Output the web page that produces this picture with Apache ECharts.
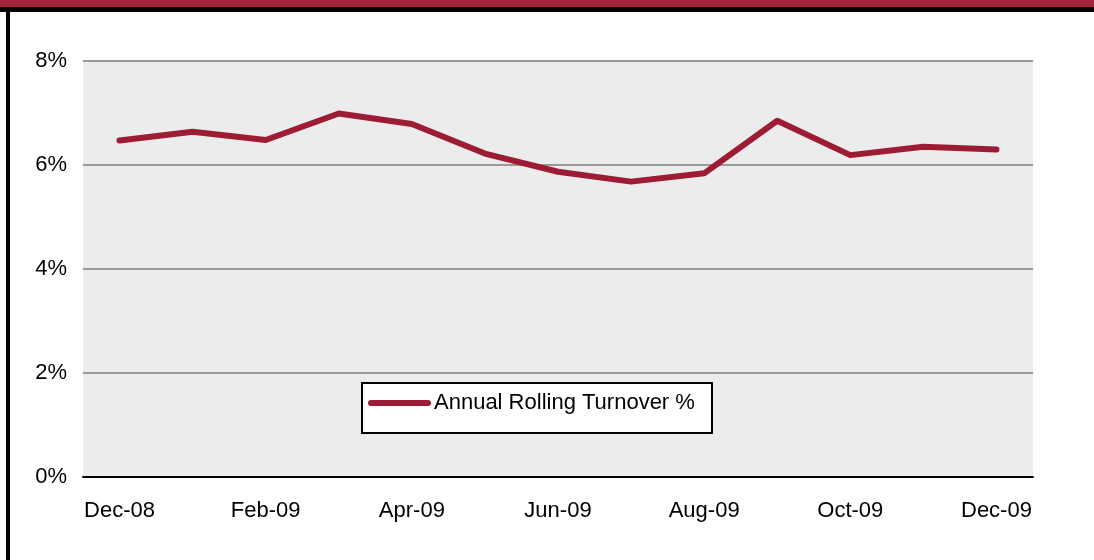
<!DOCTYPE html>
<html><head><meta charset="utf-8">
<script src="https://cdn.jsdelivr.net/npm/echarts@6/dist/echarts.min.js"></script>
<style>html,body{margin:0;padding:0;background:#fff}#c{width:1094px;height:560px}</style>
</head><body><div id="c"></div>
<script>
const categories = ['Dec-08','Jan-09','Feb-09','Mar-09','Apr-09','May-09','Jun-09','Jul-09','Aug-09','Sep-09','Oct-09','Nov-09','Dec-09'];
const turnover = [6.47, 6.64, 6.48, 6.99, 6.79, 6.22, 5.87, 5.68, 5.84, 6.85, 6.19, 6.35, 6.30];
const seriesName = 'Annual Rolling Turnover %';
const yTicks = [0, 2, 4, 6, 8];

const chart = echarts.init(document.getElementById('c'));
chart.setOption({
  animation: false,
  textStyle: {fontFamily: 'Liberation Sans, Arial, sans-serif'},
  graphic: [
    {type: 'rect', shape: {x: 0, y: 0, width: 1094, height: 7}, style: {fill: '#a3243b'}, silent: true},
    {type: 'rect', shape: {x: 0, y: 7, width: 1094, height: 5}, style: {fill: '#000'}, silent: true},
    {type: 'rect', shape: {x: 6, y: 7, width: 4, height: 553}, style: {fill: '#000'}, silent: true},
    {type: 'rect', shape: {x: 362, y: 383, width: 350, height: 50}, style: {fill: '#fff', stroke: '#000', lineWidth: 2}, z: 10, silent: true},
    {type: 'line', shape: {x1: 371, y1: 403, x2: 428, y2: 403}, style: {stroke: '#9e1b34', lineWidth: 6, lineCap: 'round'}, z: 11, silent: true},
    {type: 'text', x: 434, y: 403, style: {text: seriesName, fill: '#000', font: '22px "Liberation Sans", Arial, sans-serif', verticalAlign: 'middle'}, z: 11, silent: true}
  ],
  grid: {left: 83, right: 61, top: 61, bottom: 83, show: true, backgroundColor: '#ececec', borderWidth: 0},
  xAxis: {
    type: 'category', data: categories, boundaryGap: true,
    axisLine: {show: true, lineStyle: {color: '#000', width: 2}},
    axisTick: {show: false},
    axisLabel: {interval: 1, color: '#000', fontSize: 22, margin: 23}
  },
  yAxis: {
    type: 'value', min: 0, max: 8, interval: 2,
    axisLine: {show: false}, axisTick: {show: false},
    axisLabel: {color: '#000', fontSize: 22, margin: 16, formatter: v => yTicks.includes(v) ? v + '%' : ''},
    splitLine: {lineStyle: {color: '#999', width: 2}}
  },
  series: [{
    name: seriesName, type: 'line', data: turnover,
    symbol: 'none', lineStyle: {color: '#9e1b34', width: 6, cap: 'round', join: 'round'}
  }]
});
</script></body></html>
